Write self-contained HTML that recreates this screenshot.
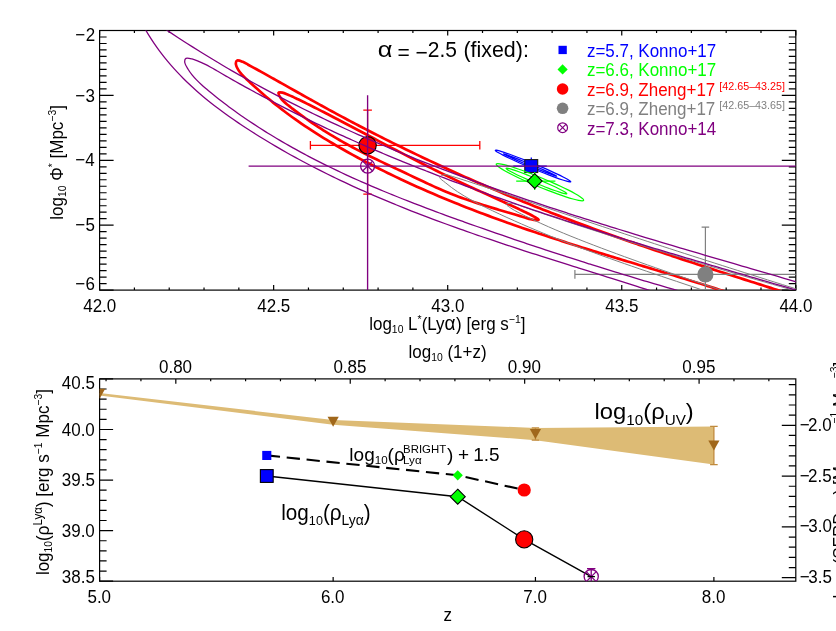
<!DOCTYPE html>
<html><head><meta charset="utf-8"><title>chart</title>
<style>html,body{margin:0;padding:0;background:#fff;}body{width:836px;height:631px;overflow:hidden;font-family:"Liberation Sans", sans-serif;}</style>
</head><body>
<svg width="836" height="631" viewBox="0 0 836 631" style="display:block;will-change:transform;font-family:'Liberation Sans', sans-serif">
<rect width="836" height="631" fill="#fff"/>
<defs><clipPath id="ct"><rect x="99.60" y="30.50" width="696.20" height="259.60"/></clipPath>
<clipPath id="cb"><rect x="99.60" y="378.90" width="696.20" height="202.30"/></clipPath></defs>
<rect x="99.60" y="30.50" width="696.20" height="259.60" fill="none" stroke="#000" stroke-width="1.20"/>
<path d="M99.60 290.10 v-5.00 M99.60 30.50 v5.00 M134.41 290.10 v-2.60 M134.41 30.50 v2.60 M169.22 290.10 v-2.60 M169.22 30.50 v2.60 M204.03 290.10 v-2.60 M204.03 30.50 v2.60 M238.84 290.10 v-2.60 M238.84 30.50 v2.60 M273.65 290.10 v-5.00 M273.65 30.50 v5.00 M308.46 290.10 v-2.60 M308.46 30.50 v2.60 M343.27 290.10 v-2.60 M343.27 30.50 v2.60 M378.08 290.10 v-2.60 M378.08 30.50 v2.60 M412.89 290.10 v-2.60 M412.89 30.50 v2.60 M447.70 290.10 v-5.00 M447.70 30.50 v5.00 M482.51 290.10 v-2.60 M482.51 30.50 v2.60 M517.32 290.10 v-2.60 M517.32 30.50 v2.60 M552.13 290.10 v-2.60 M552.13 30.50 v2.60 M586.94 290.10 v-2.60 M586.94 30.50 v2.60 M621.75 290.10 v-5.00 M621.75 30.50 v5.00 M656.56 290.10 v-2.60 M656.56 30.50 v2.60 M691.37 290.10 v-2.60 M691.37 30.50 v2.60 M726.18 290.10 v-2.60 M726.18 30.50 v2.60 M760.99 290.10 v-2.60 M760.99 30.50 v2.60 M795.80 290.10 v-5.00 M795.80 30.50 v5.00 M99.60 30.50 h14.00 M795.80 30.50 h-14.00 M99.60 36.99 h7.00 M795.80 36.99 h-7.00 M99.60 43.48 h7.00 M795.80 43.48 h-7.00 M99.60 49.97 h7.00 M795.80 49.97 h-7.00 M99.60 56.46 h7.00 M795.80 56.46 h-7.00 M99.60 62.95 h7.00 M795.80 62.95 h-7.00 M99.60 69.44 h7.00 M795.80 69.44 h-7.00 M99.60 75.93 h7.00 M795.80 75.93 h-7.00 M99.60 82.42 h7.00 M795.80 82.42 h-7.00 M99.60 88.91 h7.00 M795.80 88.91 h-7.00 M99.60 95.40 h14.00 M795.80 95.40 h-14.00 M99.60 101.89 h7.00 M795.80 101.89 h-7.00 M99.60 108.38 h7.00 M795.80 108.38 h-7.00 M99.60 114.87 h7.00 M795.80 114.87 h-7.00 M99.60 121.36 h7.00 M795.80 121.36 h-7.00 M99.60 127.85 h7.00 M795.80 127.85 h-7.00 M99.60 134.34 h7.00 M795.80 134.34 h-7.00 M99.60 140.83 h7.00 M795.80 140.83 h-7.00 M99.60 147.32 h7.00 M795.80 147.32 h-7.00 M99.60 153.81 h7.00 M795.80 153.81 h-7.00 M99.60 160.30 h14.00 M795.80 160.30 h-14.00 M99.60 166.79 h7.00 M795.80 166.79 h-7.00 M99.60 173.28 h7.00 M795.80 173.28 h-7.00 M99.60 179.77 h7.00 M795.80 179.77 h-7.00 M99.60 186.26 h7.00 M795.80 186.26 h-7.00 M99.60 192.75 h7.00 M795.80 192.75 h-7.00 M99.60 199.24 h7.00 M795.80 199.24 h-7.00 M99.60 205.73 h7.00 M795.80 205.73 h-7.00 M99.60 212.22 h7.00 M795.80 212.22 h-7.00 M99.60 218.71 h7.00 M795.80 218.71 h-7.00 M99.60 225.20 h14.00 M795.80 225.20 h-14.00 M99.60 231.69 h7.00 M795.80 231.69 h-7.00 M99.60 238.18 h7.00 M795.80 238.18 h-7.00 M99.60 244.67 h7.00 M795.80 244.67 h-7.00 M99.60 251.16 h7.00 M795.80 251.16 h-7.00 M99.60 257.65 h7.00 M795.80 257.65 h-7.00 M99.60 264.14 h7.00 M795.80 264.14 h-7.00 M99.60 270.63 h7.00 M795.80 270.63 h-7.00 M99.60 277.12 h7.00 M795.80 277.12 h-7.00 M99.60 283.61 h7.00 M795.80 283.61 h-7.00 M99.60 290.10 h14.00 M795.80 290.10 h-14.00 " stroke="#000" stroke-width="1.20" fill="none"/>
<g clip-path="url(#ct)" fill="none">
<path d="M570.80 181.80 C570.73 181.96 570.33 182.00 569.64 181.90 C568.95 181.80 567.93 181.56 566.66 181.20 C565.38 180.84 563.78 180.35 561.98 179.75 C560.19 179.15 558.09 178.41 555.86 177.60 C553.63 176.79 551.15 175.86 548.59 174.88 C546.04 173.90 543.29 172.82 540.55 171.71 C537.80 170.61 534.93 169.43 532.13 168.26 C529.33 167.10 526.46 165.88 523.75 164.70 C521.04 163.53 518.33 162.34 515.84 161.21 C513.35 160.09 510.94 158.98 508.79 157.96 C506.65 156.95 504.66 155.97 502.96 155.12 C501.27 154.26 499.79 153.48 498.64 152.82 C497.49 152.17 496.60 151.61 496.05 151.19 C495.49 150.77 495.24 150.46 495.30 150.30 C495.37 150.14 495.77 150.10 496.46 150.20 C497.15 150.30 498.17 150.54 499.44 150.90 C500.72 151.26 502.32 151.75 504.12 152.35 C505.91 152.95 508.01 153.69 510.24 154.50 C512.47 155.31 514.95 156.24 517.51 157.22 C520.06 158.20 522.81 159.28 525.55 160.39 C528.30 161.49 531.17 162.67 533.97 163.84 C536.77 165.00 539.64 166.22 542.35 167.40 C545.06 168.57 547.77 169.76 550.26 170.89 C552.75 172.01 555.16 173.12 557.31 174.14 C559.45 175.15 561.44 176.13 563.14 176.98 C564.83 177.84 566.31 178.62 567.46 179.28 C568.61 179.93 569.50 180.49 570.05 180.91 C570.61 181.33 570.86 181.64 570.80 181.80 Z" stroke="#0000FF" stroke-width="1.2"/>
<path d="M556.69 176.20 C556.67 176.26 556.41 176.23 555.95 176.10 C555.48 175.98 554.78 175.76 553.90 175.45 C553.02 175.15 551.91 174.74 550.66 174.27 C549.41 173.80 547.95 173.24 546.39 172.63 C544.83 172.02 543.09 171.33 541.30 170.61 C539.50 169.88 537.57 169.10 535.64 168.30 C533.71 167.50 531.68 166.66 529.70 165.83 C527.73 165.00 525.70 164.14 523.78 163.32 C521.86 162.49 519.95 161.66 518.18 160.89 C516.41 160.11 514.70 159.35 513.17 158.67 C511.64 157.98 510.21 157.33 509.00 156.76 C507.79 156.20 506.73 155.69 505.90 155.27 C505.06 154.85 504.41 154.51 504.00 154.27 C503.58 154.02 503.38 153.86 503.41 153.80 C503.43 153.74 503.69 153.77 504.15 153.90 C504.62 154.02 505.32 154.24 506.20 154.55 C507.08 154.85 508.19 155.26 509.44 155.73 C510.69 156.20 512.15 156.76 513.71 157.37 C515.27 157.98 517.01 158.67 518.80 159.39 C520.60 160.12 522.53 160.90 524.46 161.70 C526.39 162.50 528.42 163.34 530.40 164.17 C532.37 165.00 534.40 165.86 536.32 166.68 C538.24 167.51 540.15 168.34 541.92 169.11 C543.69 169.89 545.40 170.65 546.93 171.33 C548.46 172.02 549.89 172.67 551.10 173.24 C552.31 173.80 553.37 174.31 554.20 174.73 C555.04 175.15 555.69 175.49 556.10 175.73 C556.52 175.98 556.72 176.14 556.69 176.20 Z" stroke="#0000FF" stroke-width="1.2"/>
<path d="M513.3 166.2 H546.8 M531.3 157.4 V174" stroke="#0000FF" stroke-width="1.3"/>
<rect x="524.8" y="159.6" width="12.9" height="12.9" fill="#0000FF" stroke="#1a1a1a" stroke-width="1.1"/>
<path d="M583.65 200.30 C583.52 200.62 583.01 200.78 582.16 200.79 C581.31 200.80 580.08 200.65 578.56 200.35 C577.03 200.05 575.14 199.59 573.02 199.00 C570.90 198.41 568.44 197.66 565.82 196.81 C563.20 195.96 560.30 194.96 557.32 193.88 C554.35 192.81 551.15 191.61 547.96 190.37 C544.77 189.13 541.43 187.79 538.19 186.45 C534.95 185.11 531.64 183.69 528.51 182.32 C525.38 180.94 522.27 179.52 519.40 178.18 C516.54 176.83 513.78 175.48 511.33 174.24 C508.87 172.99 506.61 171.78 504.69 170.70 C502.77 169.61 501.10 168.60 499.81 167.74 C498.53 166.87 497.55 166.10 496.95 165.50 C496.36 164.89 496.12 164.41 496.25 164.10 C496.38 163.78 496.89 163.62 497.74 163.61 C498.59 163.60 499.82 163.75 501.34 164.05 C502.87 164.35 504.76 164.81 506.88 165.40 C509.00 165.99 511.46 166.74 514.08 167.59 C516.70 168.44 519.60 169.44 522.58 170.52 C525.55 171.59 528.75 172.79 531.94 174.03 C535.13 175.27 538.47 176.61 541.71 177.95 C544.95 179.29 548.26 180.71 551.39 182.08 C554.52 183.46 557.63 184.88 560.50 186.22 C563.36 187.57 566.12 188.92 568.57 190.16 C571.03 191.41 573.29 192.62 575.21 193.70 C577.13 194.79 578.80 195.80 580.09 196.66 C581.37 197.53 582.35 198.30 582.95 198.90 C583.54 199.51 583.78 199.99 583.65 200.30 Z" stroke="#00FF00" stroke-width="1.2"/>
<path d="M566.75 193.70 C566.69 193.85 566.36 193.89 565.80 193.83 C565.24 193.77 564.41 193.59 563.38 193.32 C562.34 193.05 561.05 192.66 559.60 192.19 C558.15 191.72 556.46 191.15 554.66 190.50 C552.86 189.86 550.86 189.12 548.80 188.34 C546.75 187.55 544.53 186.69 542.33 185.80 C540.12 184.92 537.80 183.97 535.55 183.03 C533.30 182.09 531.00 181.11 528.82 180.15 C526.64 179.20 524.47 178.23 522.47 177.32 C520.47 176.41 518.53 175.50 516.81 174.67 C515.09 173.84 513.50 173.04 512.14 172.34 C510.79 171.63 509.61 170.99 508.69 170.44 C507.77 169.90 507.06 169.43 506.62 169.07 C506.18 168.72 505.99 168.45 506.05 168.30 C506.11 168.15 506.44 168.11 507.00 168.17 C507.56 168.23 508.39 168.41 509.42 168.68 C510.46 168.95 511.75 169.34 513.20 169.81 C514.65 170.28 516.34 170.85 518.14 171.50 C519.94 172.14 521.94 172.88 524.00 173.66 C526.05 174.45 528.27 175.31 530.47 176.20 C532.68 177.08 535.00 178.03 537.25 178.97 C539.50 179.91 541.80 180.89 543.98 181.85 C546.16 182.80 548.33 183.77 550.33 184.68 C552.33 185.59 554.27 186.50 555.99 187.33 C557.71 188.16 559.30 188.96 560.66 189.66 C562.01 190.37 563.19 191.01 564.11 191.56 C565.03 192.10 565.74 192.57 566.18 192.93 C566.62 193.28 566.81 193.55 566.75 193.70 Z" stroke="#00FF00" stroke-width="1.2"/>
<path d="M516.2 181.1 H555.4 M534.7 172 V190" stroke="#00FF00" stroke-width="1.3"/>
<path d="M534.7 173.7 L542.1 181.1 L534.7 188.5 L527.3 181.1 Z" fill="#00FF00" stroke="#000" stroke-width="1.1"/>
<path d="M732.98 294.10 C732.04 293.79 729.21 292.87 727.32 292.26 C725.43 291.65 723.54 291.04 721.65 290.43 C719.76 289.82 717.86 289.22 715.97 288.62 C714.08 288.01 712.18 287.41 710.29 286.81 C708.39 286.22 706.50 285.62 704.60 285.02 C702.71 284.43 700.81 283.83 698.91 283.24 C697.02 282.65 695.12 282.06 693.22 281.47 C691.32 280.88 689.42 280.29 687.52 279.71 C685.62 279.12 683.72 278.54 681.82 277.95 C679.92 277.37 678.02 276.79 676.12 276.20 C674.22 275.62 672.32 275.04 670.42 274.46 C668.51 273.88 666.61 273.30 664.71 272.72 C662.81 272.14 660.90 271.56 659.00 270.98 C657.10 270.41 655.19 269.83 653.29 269.25 C651.39 268.67 649.48 268.10 647.58 267.52 C645.67 266.94 643.77 266.37 641.87 265.79 C639.96 265.21 638.06 264.64 636.15 264.06 C634.25 263.48 632.35 262.90 630.44 262.33 C628.54 261.75 626.63 261.17 624.73 260.59 C622.83 260.01 620.92 259.43 619.02 258.85 C617.12 258.27 615.21 257.69 613.31 257.11 C611.41 256.53 609.50 255.95 607.60 255.37 C605.70 254.78 603.80 254.20 601.89 253.61 C599.99 253.03 598.09 252.44 596.19 251.86 C594.29 251.27 592.39 250.68 590.49 250.09 C588.59 249.50 586.69 248.91 584.79 248.31 C582.89 247.72 580.99 247.12 579.09 246.53 C577.20 245.93 575.30 245.33 573.40 244.73 C571.51 244.13 569.61 243.53 567.71 242.92 C565.82 242.32 563.92 241.71 562.03 241.10 C560.14 240.50 558.24 239.88 556.35 239.27 C554.46 238.66 552.57 238.04 550.68 237.42 C548.79 236.80 546.90 236.18 545.01 235.56 C543.12 234.94 541.23 234.31 539.34 233.68 C537.46 233.05 535.57 232.42 533.69 231.78 C531.80 231.15 529.92 230.51 528.04 229.87 C526.15 229.23 524.27 228.58 522.39 227.93 C520.51 227.29 518.63 226.64 516.76 225.98 C514.88 225.33 513.00 224.67 511.13 224.01 C509.25 223.34 507.38 222.68 505.51 222.01 C503.63 221.34 501.76 220.67 499.89 219.99 C498.02 219.32 496.15 218.64 494.29 217.95 C492.42 217.27 490.56 216.58 488.69 215.89 C486.83 215.20 484.97 214.50 483.10 213.80 C481.24 213.10 479.39 212.40 477.53 211.69 C475.67 210.98 473.81 210.27 471.96 209.55 C470.11 208.83 468.25 208.11 466.40 207.39 C464.55 206.66 462.70 205.93 460.86 205.20 C459.01 204.46 457.17 203.72 455.32 202.98 C453.48 202.24 451.64 201.49 449.80 200.74 C447.96 199.98 446.12 199.23 444.29 198.46 C442.45 197.70 440.62 196.93 438.79 196.16 C436.96 195.39 435.13 194.61 433.30 193.83 C431.47 193.05 429.65 192.26 427.83 191.47 C426.00 190.68 424.18 189.88 422.37 189.08 C420.55 188.27 418.73 187.47 416.92 186.65 C415.10 185.84 413.29 185.02 411.48 184.20 C409.68 183.37 407.87 182.54 406.07 181.71 C404.26 180.87 402.46 180.03 400.66 179.18 C398.86 178.34 397.07 177.49 395.27 176.63 C393.48 175.77 391.69 174.91 389.90 174.04 C388.11 173.17 386.32 172.29 384.54 171.41 C382.75 170.53 380.97 169.64 379.20 168.75 C377.42 167.85 375.64 166.95 373.87 166.05 C372.10 165.14 370.33 164.23 368.56 163.31 C366.79 162.39 365.03 161.47 363.27 160.54 C361.51 159.60 359.75 158.67 357.99 157.72 C356.24 156.78 354.49 155.83 352.74 154.87 C350.99 153.91 349.24 152.95 347.50 151.98 C345.76 151.00 344.02 150.02 342.29 149.04 C340.56 148.05 338.83 147.06 337.10 146.06 C335.38 145.06 333.66 144.05 331.95 143.03 C330.23 142.02 328.52 140.99 326.82 139.96 C325.12 138.93 323.42 137.89 321.73 136.84 C320.03 135.79 318.35 134.73 316.67 133.66 C314.99 132.60 313.32 131.52 311.65 130.44 C309.98 129.36 308.32 128.26 306.67 127.16 C305.02 126.06 303.38 124.95 301.74 123.83 C300.10 122.71 298.47 121.58 296.85 120.44 C295.23 119.30 293.62 118.15 292.01 116.99 C290.41 115.83 288.81 114.67 287.22 113.49 C285.64 112.31 284.06 111.12 282.49 109.92 C280.92 108.72 279.36 107.51 277.81 106.29 C276.26 105.07 274.72 103.84 273.19 102.59 C271.66 101.35 270.14 100.09 268.62 98.83 C267.10 97.56 265.58 96.28 264.08 94.98 C262.57 93.69 261.06 92.38 259.56 91.06 C258.05 89.73 256.55 88.40 255.05 87.04 C253.55 85.69 252.05 84.32 250.54 82.94 C249.04 81.55 247.50 80.16 246.03 78.73 C244.55 77.30 243.02 75.87 241.70 74.35 C240.38 72.84 239.09 71.30 238.13 69.64 C237.16 67.99 236.07 65.95 235.91 64.42 C235.75 62.89 236.03 60.90 237.18 60.47 C238.32 60.04 240.96 61.13 242.78 61.83 C244.61 62.54 246.35 63.75 248.13 64.71 C249.91 65.67 251.68 66.63 253.45 67.60 C255.22 68.57 256.98 69.54 258.75 70.51 C260.51 71.48 262.26 72.45 264.02 73.43 C265.77 74.40 267.52 75.38 269.27 76.35 C271.02 77.33 272.76 78.30 274.51 79.28 C276.25 80.26 277.99 81.24 279.73 82.22 C281.47 83.19 283.20 84.17 284.94 85.15 C286.68 86.13 288.41 87.11 290.14 88.09 C291.88 89.06 293.61 90.04 295.34 91.02 C297.07 91.99 298.80 92.97 300.53 93.94 C302.26 94.92 303.99 95.89 305.73 96.86 C307.46 97.83 309.19 98.80 310.92 99.77 C312.65 100.74 314.39 101.70 316.12 102.66 C317.86 103.63 319.59 104.59 321.33 105.54 C323.07 106.50 324.81 107.46 326.55 108.41 C328.29 109.36 330.04 110.31 331.78 111.26 C333.53 112.20 335.27 113.15 337.02 114.09 C338.77 115.03 340.52 115.97 342.27 116.91 C344.02 117.84 345.78 118.78 347.53 119.71 C349.29 120.64 351.04 121.56 352.80 122.49 C354.56 123.41 356.32 124.34 358.08 125.26 C359.84 126.18 361.60 127.09 363.37 128.01 C365.13 128.92 366.90 129.83 368.66 130.74 C370.43 131.65 372.20 132.56 373.97 133.46 C375.74 134.36 377.51 135.26 379.29 136.16 C381.06 137.06 382.84 137.95 384.61 138.85 C386.39 139.74 388.17 140.63 389.95 141.51 C391.73 142.40 393.51 143.28 395.29 144.17 C397.07 145.05 398.86 145.93 400.64 146.80 C402.43 147.68 404.22 148.55 406.00 149.42 C407.79 150.29 409.58 151.16 411.37 152.02 C413.17 152.89 414.96 153.75 416.75 154.61 C418.55 155.47 420.34 156.32 422.14 157.18 C423.94 158.03 425.74 158.88 427.53 159.73 C429.33 160.58 431.14 161.42 432.94 162.26 C434.74 163.11 436.54 163.94 438.35 164.78 C440.16 165.62 441.96 166.45 443.77 167.28 C445.58 168.11 447.39 168.94 449.20 169.77 C451.01 170.59 452.82 171.42 454.63 172.24 C456.45 173.06 458.26 173.87 460.08 174.69 C461.89 175.50 463.71 176.31 465.53 177.12 C467.35 177.93 469.17 178.73 470.99 179.54 C472.81 180.34 474.63 181.14 476.46 181.94 C478.28 182.74 480.10 183.53 481.93 184.32 C483.76 185.11 485.58 185.90 487.41 186.69 C489.24 187.47 491.07 188.26 492.90 189.04 C494.73 189.82 496.56 190.59 498.40 191.37 C500.23 192.14 502.06 192.91 503.90 193.68 C505.74 194.45 507.57 195.22 509.41 195.98 C511.25 196.74 513.09 197.50 514.93 198.26 C516.77 199.02 518.61 199.77 520.45 200.52 C522.29 201.27 524.14 202.02 525.98 202.77 C527.83 203.52 529.67 204.26 531.52 205.00 C533.37 205.74 535.21 206.48 537.06 207.21 C538.91 207.94 540.76 208.67 542.61 209.40 C544.47 210.13 546.32 210.86 548.17 211.58 C550.02 212.30 551.88 213.02 553.73 213.74 C555.59 214.46 557.45 215.17 559.30 215.88 C561.16 216.59 563.02 217.30 564.88 218.01 C566.74 218.71 568.60 219.42 570.46 220.12 C572.32 220.82 574.18 221.52 576.05 222.21 C577.91 222.91 579.77 223.60 581.64 224.29 C583.50 224.98 585.37 225.67 587.23 226.36 C589.10 227.05 590.97 227.73 592.84 228.41 C594.70 229.09 596.57 229.77 598.44 230.45 C600.31 231.12 602.18 231.80 604.06 232.47 C605.93 233.14 607.80 233.81 609.67 234.48 C611.55 235.15 613.42 235.82 615.29 236.48 C617.17 237.14 619.04 237.80 620.92 238.46 C622.80 239.12 624.67 239.78 626.55 240.44 C628.43 241.09 630.31 241.75 632.19 242.40 C634.06 243.05 635.94 243.70 637.82 244.35 C639.70 245.00 641.58 245.65 643.47 246.29 C645.35 246.94 647.23 247.58 649.11 248.22 C650.99 248.86 652.88 249.50 654.76 250.14 C656.64 250.78 658.53 251.42 660.41 252.05 C662.30 252.69 664.18 253.32 666.07 253.96 C667.95 254.59 669.84 255.22 671.73 255.85 C673.61 256.48 675.50 257.11 677.39 257.73 C679.28 258.36 681.16 258.99 683.05 259.61 C684.94 260.24 686.83 260.86 688.72 261.48 C690.61 262.10 692.50 262.72 694.39 263.34 C696.28 263.96 698.17 264.58 700.06 265.20 C701.95 265.82 703.84 266.43 705.73 267.05 C707.63 267.67 709.52 268.28 711.41 268.89 C713.30 269.51 715.19 270.12 717.09 270.73 C718.98 271.35 720.87 271.96 722.77 272.57 C724.66 273.18 726.55 273.79 728.45 274.40 C730.34 275.01 732.23 275.61 734.13 276.22 C736.02 276.83 737.92 277.44 739.81 278.04 C741.71 278.65 743.60 279.26 745.50 279.86 C747.39 280.47 749.29 281.07 751.18 281.68 C753.08 282.28 754.97 282.89 756.87 283.49 C758.76 284.09 760.66 284.70 762.55 285.30 C764.45 285.90 766.34 286.51 768.24 287.11 C770.14 287.71 772.03 288.31 773.93 288.92 C775.82 289.52 777.72 290.12 779.61 290.72 C781.51 291.33 783.41 291.93 785.30 292.53 C787.20 293.13 790.04 294.03 790.99 294.34" stroke="#FF0000" stroke-width="2.7" stroke-linejoin="round"/>
<path d="M278.46 92.87 C278.77 92.02 280.82 92.35 282.42 92.65 C284.01 92.95 286.24 93.97 288.01 94.68 C289.79 95.38 291.42 96.13 293.06 96.88 C294.69 97.63 296.25 98.41 297.85 99.18 C299.44 99.95 301.02 100.74 302.61 101.52 C304.20 102.30 305.78 103.09 307.37 103.88 C308.96 104.67 310.54 105.46 312.13 106.26 C313.72 107.06 315.30 107.86 316.89 108.66 C318.48 109.47 320.06 110.28 321.65 111.09 C323.24 111.90 324.82 112.71 326.41 113.53 C328.00 114.34 329.58 115.16 331.17 115.98 C332.76 116.81 334.34 117.63 335.93 118.46 C337.52 119.28 339.10 120.11 340.69 120.94 C342.28 121.77 343.87 122.60 345.45 123.44 C347.04 124.27 348.63 125.10 350.22 125.94 C351.81 126.78 353.40 127.61 354.99 128.45 C356.57 129.29 358.16 130.13 359.75 130.97 C361.34 131.81 362.93 132.65 364.52 133.50 C366.11 134.34 367.70 135.18 369.29 136.02 C370.89 136.86 372.48 137.71 374.07 138.55 C375.66 139.39 377.25 140.24 378.85 141.08 C380.44 141.92 382.03 142.76 383.63 143.60 C385.22 144.44 386.82 145.29 388.41 146.13 C390.01 146.97 391.60 147.80 393.20 148.64 C394.79 149.48 396.39 150.32 397.99 151.15 C399.59 151.99 401.18 152.82 402.78 153.65 C404.38 154.49 405.98 155.32 407.58 156.14 C409.18 156.97 410.78 157.80 412.38 158.62 C413.99 159.45 415.59 160.27 417.19 161.09 C418.80 161.91 420.40 162.73 422.00 163.54 C423.61 164.35 425.22 165.17 426.82 165.97 C428.43 166.78 430.04 167.59 431.65 168.39 C433.25 169.19 434.86 169.99 436.47 170.79 C438.08 171.58 439.70 172.37 441.31 173.16 C442.92 173.95 444.53 174.73 446.15 175.51 C447.76 176.29 449.38 177.06 451.00 177.84 C452.61 178.61 454.23 179.37 455.85 180.14 C457.47 180.90 459.09 181.66 460.71 182.41 C462.33 183.17 463.95 183.92 465.57 184.67 C467.20 185.42 468.82 186.17 470.44 186.92 C472.07 187.67 473.69 188.41 475.32 189.15 C476.95 189.90 478.57 190.64 480.20 191.38 C481.83 192.12 483.46 192.86 485.09 193.60 C486.72 194.34 488.35 195.08 489.98 195.82 C491.61 196.56 493.24 197.30 494.88 198.05 C496.51 198.79 498.14 199.53 499.78 200.28 C501.41 201.02 503.05 201.77 504.68 202.52 C506.32 203.27 507.96 204.02 509.59 204.78 C511.23 205.53 512.87 206.29 514.51 207.05 C516.14 207.81 517.78 208.58 519.42 209.35 C521.06 210.12 522.71 210.88 524.34 211.67 C525.98 212.45 527.63 213.22 529.24 214.05 C530.86 214.88 532.47 215.71 534.02 216.63 C535.57 217.56 538.23 219.00 538.53 219.59 C538.82 220.19 537.07 220.27 535.77 220.21 C534.47 220.15 532.43 219.65 530.72 219.24 C529.00 218.83 527.24 218.26 525.49 217.74 C523.75 217.22 521.99 216.66 520.24 216.13 C518.49 215.60 516.74 215.08 515.00 214.56 C513.25 214.04 511.51 213.52 509.77 213.00 C508.03 212.49 506.29 211.98 504.56 211.46 C502.82 210.95 501.09 210.44 499.36 209.93 C497.63 209.42 495.91 208.90 494.18 208.39 C492.46 207.87 490.74 207.35 489.02 206.83 C487.30 206.31 485.59 205.79 483.88 205.26 C482.17 204.72 480.46 204.19 478.76 203.65 C477.05 203.10 475.35 202.55 473.65 202.00 C471.96 201.44 470.26 200.87 468.58 200.30 C466.89 199.72 465.20 199.13 463.52 198.54 C461.84 197.94 460.16 197.33 458.49 196.71 C456.81 196.09 455.14 195.45 453.48 194.80 C451.81 194.15 450.15 193.49 448.50 192.81 C446.84 192.13 445.19 191.44 443.54 190.73 C441.89 190.03 440.25 189.30 438.61 188.58 C436.96 187.85 435.33 187.11 433.69 186.36 C432.05 185.61 430.42 184.86 428.79 184.10 C427.15 183.34 425.53 182.57 423.90 181.80 C422.27 181.03 420.64 180.26 419.01 179.49 C417.39 178.71 415.76 177.94 414.13 177.16 C412.51 176.39 410.88 175.62 409.25 174.85 C407.63 174.08 406.00 173.31 404.37 172.55 C402.75 171.78 401.12 171.02 399.49 170.26 C397.86 169.50 396.24 168.74 394.61 167.98 C392.99 167.22 391.36 166.46 389.74 165.70 C388.11 164.94 386.49 164.17 384.87 163.41 C383.25 162.64 381.63 161.88 380.01 161.10 C378.40 160.33 376.78 159.56 375.17 158.78 C373.56 158.00 371.95 157.21 370.34 156.42 C368.73 155.63 367.13 154.84 365.53 154.04 C363.93 153.23 362.33 152.42 360.74 151.61 C359.14 150.79 357.55 149.96 355.97 149.13 C354.38 148.29 352.80 147.45 351.22 146.60 C349.64 145.75 348.07 144.88 346.50 144.01 C344.93 143.14 343.37 142.26 341.81 141.38 C340.25 140.49 338.70 139.59 337.15 138.68 C335.60 137.78 334.06 136.86 332.52 135.93 C330.98 135.01 329.44 134.07 327.92 133.13 C326.39 132.18 324.87 131.23 323.35 130.27 C321.83 129.31 320.32 128.33 318.82 127.35 C317.31 126.37 315.81 125.38 314.32 124.38 C312.83 123.38 311.34 122.37 309.86 121.34 C308.38 120.32 306.91 119.29 305.44 118.25 C303.98 117.21 302.52 116.17 301.07 115.11 C299.61 114.05 298.17 112.98 296.73 111.90 C295.29 110.82 293.86 109.73 292.43 108.63 C291.01 107.53 289.58 106.44 288.18 105.30 C286.79 104.17 285.34 103.09 284.06 101.84 C282.79 100.58 281.48 99.28 280.55 97.79 C279.62 96.29 278.15 93.73 278.46 92.87 Z" stroke="#FF0000" stroke-width="2.7" stroke-linejoin="round"/>
<path d="M310.4 145.3 H479.8 M310.4 141.1 V149.6 M479.8 141.1 V149.6 M367.6 110.2 V194.2 M363.3 110.2 H371.9 M363.3 194.2 H371.9" stroke="#FF0000" stroke-width="1.3"/>
<circle cx="367.6" cy="145.3" r="8.7" fill="#FF0000" stroke="#000" stroke-width="1.1"/>
<path d="M714.07 293.96 C712.82 293.53 709.05 292.26 706.54 291.42 C704.03 290.57 701.52 289.73 699.02 288.89 C696.51 288.05 694.01 287.21 691.51 286.37 C689.00 285.53 686.50 284.69 684.00 283.86 C681.50 283.02 679.00 282.18 676.51 281.34 C674.01 280.51 671.52 279.67 669.02 278.83 C666.53 277.99 664.04 277.16 661.55 276.32 C659.06 275.48 656.57 274.63 654.08 273.79 C651.60 272.95 649.11 272.11 646.63 271.26 C644.14 270.41 641.66 269.57 639.18 268.72 C636.70 267.86 634.22 267.01 631.75 266.16 C629.27 265.30 626.79 264.44 624.32 263.58 C621.85 262.72 619.38 261.85 616.91 260.98 C614.44 260.11 611.97 259.24 609.50 258.36 C607.03 257.48 604.57 256.60 602.11 255.71 C599.64 254.82 597.18 253.93 594.72 253.03 C592.26 252.13 589.80 251.23 587.35 250.32 C584.89 249.41 582.44 248.49 579.99 247.57 C577.53 246.65 575.08 245.72 572.64 244.78 C570.19 243.85 567.74 242.90 565.29 241.96 C562.85 241.01 560.41 240.05 557.97 239.08 C555.52 238.12 553.09 237.15 550.65 236.17 C548.21 235.18 545.77 234.19 543.34 233.20 C540.91 232.20 538.48 231.19 536.05 230.17 C533.62 229.16 531.19 228.13 528.76 227.10 C526.34 226.06 523.91 225.02 521.49 223.96 C519.07 222.91 516.65 221.84 514.23 220.76 C511.81 219.69 509.40 218.60 506.98 217.50 C504.57 216.40 502.16 215.29 499.75 214.17 C497.34 213.05 494.93 211.92 492.52 210.77 C490.12 209.62 487.71 208.47 485.32 207.29 C482.93 206.11 480.54 204.92 478.18 203.70 C475.82 202.48 473.47 201.24 471.15 199.96 C468.84 198.67 466.55 197.37 464.30 196.01 C462.05 194.66 459.83 193.28 457.67 191.84 C455.51 190.40 453.39 188.92 451.33 187.38 C449.27 185.84 447.25 184.26 445.31 182.60 C443.38 180.95 439.75 178.79 439.70 177.46 C439.65 176.13 442.86 174.76 445.02 174.60 C447.19 174.45 450.19 175.83 452.70 176.53 C455.21 177.24 457.61 178.05 460.09 178.83 C462.58 179.62 465.10 180.45 467.60 181.26 C470.11 182.08 472.63 182.91 475.13 183.74 C477.64 184.56 480.15 185.39 482.65 186.22 C485.16 187.05 487.66 187.88 490.17 188.71 C492.67 189.55 495.17 190.38 497.67 191.22 C500.17 192.05 502.66 192.89 505.16 193.73 C507.66 194.56 510.15 195.40 512.65 196.24 C515.14 197.08 517.64 197.92 520.13 198.76 C522.62 199.60 525.11 200.45 527.60 201.29 C530.09 202.13 532.59 202.97 535.07 203.82 C537.56 204.66 540.05 205.50 542.54 206.34 C545.03 207.19 547.52 208.03 550.01 208.87 C552.50 209.72 554.98 210.56 557.47 211.40 C559.96 212.24 562.45 213.09 564.94 213.93 C567.42 214.77 569.91 215.61 572.40 216.45 C574.89 217.29 577.38 218.13 579.87 218.97 C582.35 219.81 584.84 220.64 587.33 221.48 C589.82 222.32 592.31 223.15 594.81 223.98 C597.30 224.82 599.79 225.65 602.28 226.48 C604.77 227.31 607.27 228.14 609.76 228.97 C612.25 229.80 614.75 230.63 617.24 231.45 C619.74 232.28 622.23 233.11 624.73 233.93 C627.22 234.75 629.72 235.58 632.21 236.40 C634.71 237.22 637.21 238.04 639.71 238.86 C642.20 239.68 644.70 240.50 647.20 241.32 C649.70 242.13 652.20 242.95 654.70 243.76 C657.20 244.58 659.70 245.39 662.20 246.21 C664.70 247.02 667.20 247.83 669.70 248.64 C672.20 249.46 674.70 250.27 677.20 251.07 C679.70 251.88 682.20 252.69 684.71 253.50 C687.21 254.31 689.71 255.11 692.21 255.92 C694.72 256.72 697.22 257.53 699.72 258.33 C702.23 259.14 704.73 259.94 707.24 260.74 C709.74 261.54 712.25 262.34 714.75 263.14 C717.25 263.94 719.76 264.74 722.26 265.54 C724.77 266.34 727.27 267.14 729.78 267.94 C732.29 268.73 734.79 269.53 737.30 270.32 C739.80 271.12 742.31 271.91 744.82 272.71 C747.32 273.50 749.83 274.30 752.34 275.09 C754.84 275.88 757.35 276.67 759.86 277.46 C762.36 278.25 764.87 279.05 767.38 279.84 C769.88 280.62 772.39 281.41 774.90 282.20 C777.40 282.99 779.91 283.78 782.42 284.57 C784.93 285.35 787.43 286.14 789.94 286.93 C792.45 287.71 794.95 288.50 797.46 289.28 C799.97 290.07 803.73 291.24 804.98 291.64" stroke="#808080" stroke-width="1"/>
<path d="M733.00 294.17 C731.72 293.74 727.86 292.44 725.28 291.57 C722.71 290.71 720.13 289.84 717.55 288.97 C714.96 288.10 712.38 287.23 709.79 286.35 C707.21 285.48 704.62 284.60 702.03 283.73 C699.44 282.85 696.85 281.97 694.26 281.09 C691.67 280.21 689.07 279.33 686.48 278.44 C683.89 277.56 681.29 276.67 678.70 275.78 C676.11 274.89 673.51 273.99 670.92 273.10 C668.33 272.20 665.73 271.31 663.14 270.40 C660.55 269.50 657.96 268.60 655.37 267.69 C652.78 266.78 650.19 265.87 647.60 264.96 C645.01 264.04 642.43 263.13 639.85 262.21 C637.26 261.28 634.68 260.36 632.11 259.43 C629.53 258.50 626.95 257.57 624.38 256.63 C621.81 255.70 619.24 254.76 616.68 253.81 C614.11 252.87 611.55 251.92 608.99 250.96 C606.44 250.01 603.89 249.05 601.34 248.09 C598.79 247.13 596.25 246.16 593.71 245.18 C591.17 244.21 588.64 243.24 586.11 242.25 C583.58 241.27 581.06 240.28 578.54 239.28 C576.02 238.28 573.50 237.28 570.99 236.26 C568.47 235.24 565.96 234.21 563.45 233.16 C560.93 232.12 558.42 231.06 555.91 229.99 C553.40 228.91 550.88 227.83 548.37 226.72 C545.85 225.61 543.33 224.48 540.81 223.33 C538.29 222.18 535.77 221.01 533.23 219.81 C530.70 218.62 528.16 217.40 525.63 216.16 C523.10 214.91 520.49 213.65 518.05 212.33 C515.62 211.01 512.99 209.64 511.01 208.25 C509.02 206.87 505.75 204.77 506.15 204.00 C506.54 203.24 510.87 203.30 513.40 203.65 C515.93 204.01 518.69 205.27 521.33 206.14 C523.98 207.02 526.63 207.98 529.28 208.90 C531.92 209.81 534.55 210.71 537.18 211.61 C539.81 212.51 542.44 213.40 545.06 214.29 C547.68 215.18 550.29 216.06 552.90 216.94 C555.52 217.81 558.12 218.69 560.73 219.55 C563.33 220.42 565.93 221.28 568.53 222.14 C571.13 222.99 573.73 223.85 576.32 224.69 C578.91 225.54 581.50 226.39 584.10 227.23 C586.69 228.07 589.27 228.90 591.86 229.74 C594.45 230.57 597.04 231.40 599.62 232.23 C602.21 233.05 604.80 233.88 607.39 234.70 C609.97 235.52 612.56 236.34 615.15 237.15 C617.74 237.97 620.33 238.78 622.92 239.59 C625.51 240.40 628.11 241.21 630.70 242.02 C633.30 242.83 635.90 243.64 638.50 244.44 C641.10 245.25 643.71 246.05 646.31 246.85 C648.92 247.66 651.53 248.46 654.14 249.26 C656.76 250.06 659.37 250.86 661.99 251.65 C664.61 252.45 667.23 253.25 669.85 254.04 C672.47 254.84 675.10 255.63 677.72 256.42 C680.35 257.22 682.98 258.01 685.61 258.80 C688.24 259.59 690.87 260.37 693.50 261.16 C696.13 261.95 698.76 262.73 701.39 263.51 C704.03 264.30 706.66 265.08 709.30 265.86 C711.93 266.64 714.57 267.42 717.20 268.20 C719.83 268.97 722.47 269.75 725.11 270.52 C727.74 271.30 730.38 272.07 733.01 272.84 C735.64 273.61 738.28 274.38 740.91 275.15 C743.54 275.92 746.18 276.68 748.81 277.45 C751.44 278.21 754.07 278.97 756.70 279.73 C759.33 280.49 761.96 281.25 764.58 282.01 C767.21 282.76 769.83 283.52 772.46 284.27 C775.08 285.03 777.70 285.78 780.32 286.53 C782.94 287.27 785.55 288.02 788.16 288.77 C790.78 289.51 794.69 290.62 796.00 291.00" stroke="#808080" stroke-width="1"/>
<path d="M574.9 274.4 H795.8 M574.9 270 V278.8 M705.4 227.2 V290.1 M701.6 227.2 H709.2" stroke="#808080" stroke-width="1.2"/>
<circle cx="705.4" cy="274.4" r="8.1" fill="#808080"/>
<path d="M161.78 26.68 C163.05 27.54 166.85 30.13 169.40 31.84 C171.95 33.54 174.50 35.24 177.06 36.92 C179.62 38.60 182.19 40.27 184.76 41.93 C187.33 43.59 189.91 45.24 192.49 46.88 C195.07 48.51 197.66 50.14 200.26 51.75 C202.85 53.36 205.45 54.96 208.06 56.55 C210.66 58.14 213.27 59.72 215.89 61.29 C218.50 62.86 221.12 64.41 223.75 65.96 C226.38 67.51 229.01 69.04 231.65 70.57 C234.28 72.09 236.93 73.60 239.58 75.11 C242.22 76.61 244.88 78.10 247.53 79.58 C250.19 81.07 252.85 82.54 255.52 84.00 C258.19 85.46 260.86 86.91 263.54 88.35 C266.22 89.80 268.90 91.23 271.59 92.65 C274.27 94.07 276.96 95.48 279.66 96.88 C282.36 98.29 285.06 99.68 287.76 101.06 C290.47 102.44 293.18 103.82 295.89 105.18 C298.61 106.54 301.33 107.90 304.05 109.24 C306.78 110.59 309.50 111.93 312.23 113.25 C314.97 114.58 317.70 115.90 320.44 117.21 C323.18 118.52 325.93 119.82 328.68 121.11 C331.43 122.40 334.18 123.68 336.94 124.96 C339.69 126.23 342.45 127.50 345.22 128.76 C347.98 130.01 350.75 131.26 353.52 132.51 C356.29 133.75 359.07 134.98 361.85 136.20 C364.63 137.43 367.41 138.65 370.20 139.86 C372.99 141.07 375.78 142.27 378.57 143.46 C381.37 144.66 384.16 145.84 386.96 147.02 C389.76 148.20 392.57 149.37 395.38 150.53 C398.18 151.70 401.00 152.85 403.81 154.00 C406.62 155.15 409.44 156.30 412.26 157.43 C415.08 158.57 417.90 159.70 420.73 160.82 C423.56 161.94 426.39 163.05 429.22 164.16 C432.05 165.27 434.89 166.37 437.73 167.47 C440.56 168.56 443.41 169.65 446.25 170.73 C449.09 171.82 451.94 172.89 454.79 173.96 C457.64 175.03 460.49 176.10 463.34 177.15 C466.20 178.21 469.05 179.26 471.91 180.31 C474.77 181.36 477.63 182.40 480.50 183.43 C483.36 184.47 486.23 185.50 489.10 186.52 C491.97 187.54 494.84 188.56 497.71 189.57 C500.58 190.59 503.46 191.60 506.34 192.60 C509.21 193.60 512.09 194.60 514.97 195.59 C517.85 196.58 520.74 197.57 523.62 198.55 C526.51 199.54 529.39 200.52 532.28 201.49 C535.17 202.46 538.06 203.43 540.95 204.40 C543.85 205.36 546.74 206.32 549.64 207.28 C552.53 208.23 555.43 209.19 558.33 210.13 C561.23 211.08 564.13 212.03 567.03 212.96 C569.93 213.90 572.83 214.84 575.73 215.77 C578.64 216.70 581.54 217.63 584.45 218.56 C587.36 219.48 590.26 220.40 593.17 221.32 C596.08 222.24 598.99 223.15 601.90 224.07 C604.81 224.98 607.73 225.88 610.64 226.79 C613.55 227.69 616.47 228.60 619.38 229.50 C622.29 230.39 625.21 231.29 628.13 232.18 C631.04 233.08 633.96 233.97 636.88 234.86 C639.79 235.74 642.71 236.63 645.63 237.51 C648.55 238.40 651.47 239.28 654.39 240.16 C657.31 241.03 660.23 241.91 663.15 242.79 C666.07 243.66 668.99 244.53 671.91 245.40 C674.83 246.27 677.75 247.14 680.67 248.01 C683.59 248.88 686.51 249.74 689.44 250.60 C692.36 251.47 695.28 252.33 698.20 253.19 C701.12 254.05 704.04 254.91 706.96 255.77 C709.89 256.63 712.81 257.49 715.73 258.34 C718.65 259.20 721.57 260.05 724.49 260.91 C727.41 261.76 730.33 262.62 733.25 263.47 C736.17 264.32 739.09 265.17 742.01 266.02 C744.93 266.88 747.84 267.73 750.76 268.58 C753.68 269.43 756.60 270.28 759.51 271.13 C762.43 271.98 765.34 272.83 768.26 273.68 C771.17 274.53 774.09 275.38 777.00 276.23 C779.91 277.08 782.82 277.93 785.73 278.78 C788.64 279.63 791.55 280.48 794.46 281.34 C797.37 282.19 800.28 283.04 803.19 283.89 C806.09 284.75 810.45 286.03 811.90 286.45" stroke="#800080" stroke-width="1.3"/>
<path d="M144.34 27.69 C145.13 29.03 147.44 33.08 149.07 35.70 C150.70 38.32 152.38 40.90 154.11 43.44 C155.83 45.97 157.61 48.46 159.44 50.91 C161.26 53.36 163.13 55.77 165.04 58.14 C166.96 60.51 168.91 62.84 170.91 65.13 C172.91 67.43 174.95 69.68 177.02 71.90 C179.10 74.11 181.21 76.29 183.36 78.44 C185.51 80.59 187.70 82.70 189.91 84.78 C192.13 86.86 194.38 88.91 196.66 90.92 C198.94 92.94 201.25 94.92 203.59 96.88 C205.93 98.83 208.30 100.76 210.68 102.66 C213.07 104.56 215.49 106.43 217.93 108.27 C220.36 110.12 222.82 111.94 225.30 113.73 C227.77 115.53 230.27 117.30 232.79 119.05 C235.30 120.79 237.83 122.52 240.37 124.23 C242.92 125.93 245.48 127.62 248.05 129.28 C250.61 130.95 253.20 132.60 255.79 134.23 C258.37 135.86 260.97 137.47 263.58 139.06 C266.19 140.66 268.81 142.24 271.43 143.80 C274.06 145.36 276.69 146.90 279.34 148.43 C281.98 149.96 284.63 151.47 287.29 152.97 C289.95 154.46 292.62 155.94 295.29 157.41 C297.97 158.87 300.65 160.32 303.35 161.75 C306.04 163.19 308.74 164.61 311.44 166.01 C314.15 167.42 316.87 168.81 319.59 170.18 C322.31 171.56 325.04 172.92 327.77 174.27 C330.51 175.62 333.25 176.95 336.00 178.27 C338.75 179.59 341.51 180.90 344.27 182.20 C347.03 183.49 349.80 184.77 352.58 186.04 C355.35 187.31 358.13 188.57 360.92 189.82 C363.71 191.06 366.50 192.29 369.30 193.52 C372.10 194.74 374.90 195.95 377.71 197.15 C380.52 198.35 383.34 199.53 386.16 200.71 C388.98 201.89 391.80 203.06 394.63 204.21 C397.46 205.37 400.30 206.51 403.13 207.65 C405.97 208.79 408.82 209.91 411.67 211.03 C414.51 212.15 417.37 213.25 420.22 214.35 C423.08 215.45 425.94 216.54 428.80 217.62 C431.67 218.70 434.53 219.78 437.41 220.84 C440.28 221.90 443.15 222.96 446.03 224.01 C448.91 225.06 451.79 226.10 454.67 227.13 C457.56 228.17 460.44 229.19 463.33 230.21 C466.22 231.23 469.12 232.25 472.01 233.25 C474.91 234.26 477.80 235.26 480.70 236.25 C483.60 237.25 486.50 238.23 489.41 239.22 C492.31 240.20 495.22 241.18 498.12 242.15 C501.03 243.12 503.94 244.09 506.85 245.05 C509.76 246.01 512.67 246.97 515.58 247.92 C518.49 248.88 521.41 249.83 524.32 250.77 C527.23 251.72 530.15 252.66 533.07 253.60 C535.98 254.54 538.90 255.47 541.81 256.40 C544.73 257.33 547.65 258.26 550.56 259.19 C553.48 260.12 556.40 261.04 559.31 261.96 C562.23 262.88 565.15 263.80 568.06 264.72 C570.98 265.64 573.89 266.56 576.81 267.47 C579.72 268.39 582.63 269.30 585.55 270.21 C588.46 271.13 591.37 272.04 594.28 272.95 C597.19 273.86 600.10 274.77 603.01 275.69 C605.92 276.60 608.82 277.51 611.73 278.42 C614.63 279.34 617.53 280.25 620.43 281.16 C623.33 282.08 626.23 282.99 629.12 283.91 C632.02 284.82 634.91 285.74 637.80 286.66 C640.69 287.58 643.58 288.50 646.47 289.42 C649.35 290.35 652.23 291.27 655.11 292.20 C657.99 293.13 662.30 294.53 663.74 295.00" stroke="#800080" stroke-width="1.3"/>
<path d="M692.11 294.69 C691.05 294.39 687.84 293.48 685.70 292.87 C683.57 292.26 681.43 291.64 679.30 291.03 C677.16 290.42 675.03 289.80 672.90 289.19 C670.77 288.57 668.64 287.95 666.51 287.33 C664.38 286.71 662.25 286.09 660.12 285.46 C658.00 284.84 655.87 284.22 653.74 283.59 C651.62 282.96 649.49 282.33 647.37 281.70 C645.25 281.07 643.12 280.44 641.00 279.81 C638.88 279.17 636.76 278.54 634.64 277.90 C632.52 277.26 630.40 276.62 628.28 275.98 C626.16 275.34 624.05 274.70 621.93 274.05 C619.82 273.41 617.70 272.76 615.59 272.11 C613.47 271.46 611.36 270.81 609.24 270.16 C607.13 269.51 605.02 268.85 602.91 268.20 C600.80 267.54 598.69 266.88 596.58 266.22 C594.47 265.57 592.36 264.90 590.25 264.24 C588.14 263.58 586.03 262.91 583.93 262.24 C581.82 261.58 579.72 260.91 577.61 260.24 C575.51 259.57 573.40 258.89 571.30 258.22 C569.19 257.54 567.09 256.87 564.99 256.19 C562.89 255.51 560.78 254.83 558.68 254.15 C556.58 253.46 554.48 252.78 552.38 252.09 C550.28 251.41 548.18 250.72 546.08 250.03 C543.98 249.34 541.89 248.65 539.79 247.95 C537.69 247.26 535.60 246.56 533.50 245.86 C531.40 245.16 529.31 244.46 527.21 243.76 C525.12 243.06 523.02 242.35 520.93 241.65 C518.83 240.94 516.74 240.23 514.65 239.52 C512.55 238.81 510.46 238.10 508.37 237.38 C506.27 236.67 504.18 235.95 502.09 235.23 C500.00 234.51 497.91 233.79 495.82 233.07 C493.73 232.35 491.64 231.62 489.55 230.89 C487.46 230.17 485.37 229.44 483.28 228.70 C481.19 227.97 479.10 227.24 477.01 226.50 C474.93 225.77 472.84 225.03 470.75 224.29 C468.66 223.55 466.57 222.81 464.49 222.06 C462.40 221.32 460.31 220.57 458.23 219.82 C456.14 219.07 454.06 218.32 451.97 217.56 C449.89 216.81 447.81 216.05 445.72 215.29 C443.64 214.52 441.56 213.76 439.48 212.99 C437.40 212.22 435.32 211.45 433.24 210.68 C431.17 209.90 429.09 209.12 427.01 208.34 C424.94 207.56 422.87 206.77 420.79 205.98 C418.72 205.19 416.65 204.39 414.58 203.59 C412.52 202.79 410.45 201.99 408.38 201.18 C406.32 200.37 404.26 199.56 402.20 198.74 C400.14 197.92 398.08 197.10 396.02 196.27 C393.97 195.45 391.91 194.61 389.86 193.77 C387.81 192.94 385.76 192.09 383.71 191.24 C381.67 190.39 379.62 189.54 377.58 188.68 C375.54 187.82 373.50 186.95 371.47 186.08 C369.43 185.20 367.40 184.33 365.37 183.44 C363.34 182.55 361.32 181.66 359.30 180.76 C357.27 179.87 355.25 178.96 353.24 178.05 C351.22 177.14 349.21 176.22 347.20 175.29 C345.19 174.37 343.19 173.44 341.18 172.50 C339.18 171.56 337.18 170.61 335.19 169.65 C333.20 168.70 331.21 167.74 329.22 166.77 C327.24 165.79 325.25 164.82 323.28 163.83 C321.30 162.84 319.33 161.85 317.36 160.85 C315.39 159.84 313.42 158.83 311.46 157.81 C309.50 156.79 307.55 155.77 305.60 154.73 C303.65 153.69 301.70 152.65 299.76 151.59 C297.82 150.54 295.88 149.47 293.95 148.40 C292.02 147.33 290.10 146.25 288.17 145.15 C286.25 144.06 284.34 142.96 282.43 141.85 C280.52 140.74 278.61 139.62 276.71 138.49 C274.82 137.36 272.92 136.22 271.03 135.06 C269.15 133.91 267.26 132.75 265.39 131.58 C263.51 130.41 261.64 129.22 259.78 128.03 C257.91 126.84 256.05 125.63 254.20 124.42 C252.35 123.20 250.50 121.98 248.66 120.74 C246.83 119.50 244.99 118.26 243.17 117.00 C241.34 115.74 239.52 114.46 237.71 113.18 C235.91 111.90 234.10 110.60 232.31 109.30 C230.52 107.99 228.74 106.68 226.97 105.35 C225.19 104.02 223.43 102.68 221.68 101.32 C219.93 99.97 218.19 98.61 216.46 97.23 C214.74 95.85 213.02 94.47 211.32 93.07 C209.62 91.67 207.92 90.26 206.25 88.83 C204.58 87.40 202.91 85.98 201.28 84.49 C199.66 83.01 198.05 81.51 196.51 79.92 C194.97 78.32 193.47 76.68 192.06 74.91 C190.66 73.14 189.26 71.26 188.07 69.28 C186.87 67.29 185.23 64.82 184.88 63.00 C184.53 61.18 184.81 59.07 185.99 58.38 C187.17 57.70 189.85 58.40 191.95 58.88 C194.06 59.37 196.47 60.45 198.61 61.32 C200.75 62.20 202.79 63.15 204.80 64.14 C206.81 65.12 208.74 66.16 210.67 67.22 C212.59 68.27 214.47 69.37 216.36 70.46 C218.25 71.55 220.12 72.66 222.02 73.76 C223.91 74.86 225.82 75.96 227.73 77.05 C229.64 78.15 231.56 79.24 233.49 80.33 C235.42 81.42 237.35 82.50 239.29 83.58 C241.23 84.67 243.17 85.75 245.12 86.82 C247.06 87.89 249.01 88.96 250.96 90.02 C252.91 91.09 254.86 92.15 256.81 93.20 C258.76 94.25 260.72 95.30 262.67 96.34 C264.63 97.39 266.58 98.43 268.54 99.46 C270.50 100.49 272.46 101.52 274.42 102.54 C276.38 103.57 278.34 104.59 280.31 105.60 C282.27 106.61 284.24 107.62 286.21 108.63 C288.18 109.63 290.15 110.63 292.12 111.62 C294.09 112.62 296.07 113.61 298.05 114.59 C300.02 115.57 302.00 116.55 303.98 117.53 C305.96 118.50 307.95 119.47 309.93 120.44 C311.92 121.40 313.91 122.37 315.90 123.32 C317.89 124.28 319.88 125.23 321.88 126.17 C323.88 127.12 325.87 128.06 327.87 129.00 C329.88 129.94 331.88 130.87 333.89 131.80 C335.89 132.73 337.90 133.65 339.91 134.57 C341.93 135.49 343.94 136.40 345.96 137.31 C347.97 138.22 349.99 139.13 352.01 140.03 C354.04 140.93 356.06 141.83 358.09 142.72 C360.11 143.61 362.14 144.50 364.17 145.39 C366.20 146.27 368.23 147.15 370.27 148.03 C372.30 148.90 374.34 149.77 376.38 150.64 C378.41 151.51 380.45 152.37 382.49 153.23 C384.54 154.09 386.58 154.95 388.62 155.80 C390.67 156.65 392.72 157.50 394.76 158.35 C396.81 159.19 398.86 160.03 400.91 160.87 C402.96 161.71 405.02 162.54 407.07 163.37 C409.12 164.20 411.18 165.02 413.23 165.85 C415.29 166.67 417.35 167.49 419.41 168.30 C421.46 169.12 423.52 169.93 425.58 170.74 C427.64 171.55 429.71 172.35 431.77 173.15 C433.83 173.95 435.90 174.75 437.96 175.55 C440.03 176.34 442.09 177.13 444.16 177.92 C446.23 178.71 448.30 179.49 450.37 180.28 C452.44 181.06 454.51 181.84 456.58 182.61 C458.65 183.39 460.72 184.16 462.80 184.93 C464.87 185.70 466.95 186.46 469.02 187.23 C471.10 187.99 473.18 188.75 475.25 189.51 C477.33 190.27 479.41 191.02 481.49 191.77 C483.57 192.52 485.65 193.27 487.73 194.02 C489.82 194.76 491.90 195.51 493.98 196.25 C496.07 196.99 498.15 197.72 500.24 198.46 C502.32 199.19 504.41 199.92 506.50 200.65 C508.59 201.38 510.67 202.11 512.76 202.83 C514.85 203.56 516.94 204.28 519.04 205.00 C521.13 205.72 523.22 206.43 525.31 207.15 C527.41 207.86 529.50 208.57 531.59 209.28 C533.69 209.99 535.78 210.70 537.88 211.40 C539.98 212.11 542.07 212.81 544.17 213.51 C546.27 214.21 548.37 214.91 550.47 215.60 C552.57 216.30 554.67 216.99 556.77 217.68 C558.87 218.37 560.97 219.06 563.08 219.75 C565.18 220.43 567.28 221.12 569.39 221.80 C571.49 222.48 573.60 223.16 575.70 223.84 C577.81 224.52 579.91 225.20 582.02 225.87 C584.13 226.55 586.24 227.22 588.34 227.89 C590.45 228.56 592.56 229.23 594.67 229.90 C596.78 230.57 598.89 231.23 601.00 231.90 C603.11 232.56 605.22 233.22 607.34 233.89 C609.45 234.55 611.56 235.21 613.68 235.86 C615.79 236.52 617.90 237.18 620.02 237.83 C622.13 238.49 624.25 239.14 626.36 239.79 C628.48 240.44 630.59 241.09 632.71 241.74 C634.83 242.39 636.94 243.04 639.06 243.68 C641.18 244.33 643.30 244.97 645.41 245.62 C647.53 246.26 649.65 246.90 651.77 247.54 C653.89 248.18 656.01 248.82 658.13 249.46 C660.25 250.10 662.37 250.74 664.49 251.38 C666.61 252.01 668.73 252.65 670.85 253.28 C672.97 253.92 675.09 254.55 677.22 255.18 C679.34 255.82 681.46 256.45 683.58 257.08 C685.70 257.71 687.83 258.34 689.95 258.97 C692.07 259.60 694.19 260.23 696.32 260.86 C698.44 261.48 700.56 262.11 702.69 262.74 C704.81 263.36 706.93 263.99 709.06 264.62 C711.18 265.24 713.31 265.87 715.43 266.49 C717.55 267.11 719.68 267.74 721.80 268.36 C723.93 268.98 726.05 269.61 728.17 270.23 C730.30 270.85 732.42 271.47 734.55 272.10 C736.67 272.72 738.80 273.34 740.92 273.96 C743.04 274.58 745.17 275.20 747.29 275.82 C749.42 276.44 751.54 277.06 753.66 277.69 C755.79 278.31 757.91 278.93 760.04 279.55 C762.16 280.17 764.28 280.79 766.41 281.41 C768.53 282.03 770.65 282.65 772.78 283.27 C774.90 283.89 777.02 284.51 779.15 285.13 C781.27 285.75 783.39 286.37 785.51 286.99 C787.64 287.61 789.76 288.24 791.88 288.86 C794.00 289.48 796.13 290.10 798.25 290.72 C800.37 291.34 802.49 291.97 804.61 292.59 C806.73 293.21 809.91 294.15 810.97 294.46" stroke="#800080" stroke-width="1.3"/>
<path d="M248.6 166.1 H795.8 M367.6 95.2 V290.1" stroke="#800080" stroke-width="1.35"/>
<circle cx="367.6" cy="166.1" r="7" stroke="#800080" stroke-width="1.3"/>
<path d="M362.65 161.15 L372.55 171.05 M372.55 161.15 L362.65 171.05" stroke="#800080" stroke-width="1.3"/>
</g>
<text transform="translate(83.19 311.70) scale(1 1.075)" font-size="17.00" fill="#000">42.0</text>
<text transform="translate(257.27 311.70) scale(1 1.075)" font-size="17.00" fill="#000">42.5</text>
<text transform="translate(431.29 311.70) scale(1 1.075)" font-size="17.00" fill="#000">43.0</text>
<text transform="translate(605.37 311.70) scale(1 1.075)" font-size="17.00" fill="#000">43.5</text>
<text transform="translate(779.39 311.70) scale(1 1.075)" font-size="17.00" fill="#000">44.0</text>
<text transform="translate(85.67 40.70) scale(1 1.075)" font-size="17.00" fill="#000">2</text>
<text transform="translate(75.29 40.70) scale(1 1.075)" font-size="17.00" fill="#000">−</text>
<text transform="translate(85.59 101.70) scale(1 1.075)" font-size="17.00" fill="#000">3</text>
<text transform="translate(75.29 101.70) scale(1 1.075)" font-size="17.00" fill="#000">−</text>
<text transform="translate(85.33 166.10) scale(1 1.075)" font-size="17.00" fill="#000">4</text>
<text transform="translate(75.29 166.10) scale(1 1.075)" font-size="17.00" fill="#000">−</text>
<text transform="translate(85.55 230.90) scale(1 1.075)" font-size="17.00" fill="#000">5</text>
<text transform="translate(75.29 230.90) scale(1 1.075)" font-size="17.00" fill="#000">−</text>
<text transform="translate(85.59 290.40) scale(1 1.075)" font-size="17.00" fill="#000">6</text>
<text transform="translate(75.29 290.40) scale(1 1.075)" font-size="17.00" fill="#000">−</text>
<text transform="translate(377.78 56.8) scale(1.144 0.99)" font-size="22.26">α</text>
<text transform="translate(397.50 60.10) scale(1 1.047)" font-size="21.00" fill="#000">=</text>
<text transform="translate(415.40 60.00) scale(1 1.047)" font-size="21.00" fill="#000">−</text>
<text transform="translate(427.73 56.80) scale(1 1.047)" font-size="21.00" fill="#000">2.5</text>
<text transform="translate(463.41 56.60) scale(1 1.026)" font-size="21.42" fill="#000">(fixed):</text>
<text transform="translate(586.92 56.70) scale(1 1.075)" font-size="17.00" fill="#0000FF">z=5.7, Konno+17</text>
<text transform="translate(586.92 76.10) scale(1 1.075)" font-size="17.00" fill="#00FF00">z=6.6, Konno+17</text>
<text transform="translate(586.92 95.50) scale(1 1.075)" font-size="17.00" fill="#FF0000">z=6.9, Zheng+17</text>
<text transform="translate(586.92 115.00) scale(1 1.075)" font-size="17.00" fill="#808080">z=6.9, Zheng+17</text>
<text transform="translate(586.92 134.50) scale(1 1.075)" font-size="17.00" fill="#800080">z=7.3, Konno+14</text>
<text transform="translate(719.25 89.60) scale(1 1.075)" font-size="10.75" fill="#FF0000">[42.65–43.25]</text>
<text transform="translate(719.25 109.10) scale(1 1.075)" font-size="10.75" fill="#808080">[42.65–43.65]</text>
<rect x="558.5" y="45.8" width="8.3" height="8.3" fill="#0000FF"/>
<path d="M562.6 64.3 L567.7 69.4 L562.6 74.5 L557.5 69.4 Z" fill="#00FF00"/>
<circle cx="562.6" cy="89" r="5.8" fill="#FF0000"/>
<circle cx="562.6" cy="108.3" r="5.8" fill="#808080"/>
<circle cx="562.6" cy="127.7" r="4.9" fill="none" stroke="#800080" stroke-width="1.2"/>
<path d="M559.1 124.2 L566.1 131.2 M566.1 124.2 L559.1 131.2" stroke="#800080" stroke-width="1.2"/>
<text transform="translate(369.19 330.20) scale(1 1.075)" fill="#000"><tspan x="0.00" y="0.00" font-size="17.00">log</tspan><tspan x="22.69" y="3.00" font-size="10.37">10</tspan><tspan x="34.22" y="0.00" font-size="17.00"> L</tspan><tspan x="48.40" y="-6.60" font-size="10.37">*</tspan><tspan x="52.44" y="0.00" font-size="17.00">(Ly</tspan><tspan x="75.42" y="0.00" font-size="19.04">α</tspan><tspan x="86.83" y="0.00" font-size="17.00">) [erg s</tspan><tspan x="139.73" y="-6.60" font-size="10.37">−1</tspan><tspan x="151.55" y="0.00" font-size="17.00">]</tspan></text>
<text transform="translate(408.50 357.50) scale(1 1.075)" fill="#000"><tspan x="0.00" y="0.00" font-size="17.00">log</tspan><tspan x="22.69" y="3.00" font-size="10.37">10</tspan><tspan x="34.22" y="0.00" font-size="17.00"> (1+z)</tspan></text>
<text transform="translate(63.20 218.60) rotate(-90) scale(1 1.075)" fill="#000"><tspan x="-1.10" y="0.00" font-size="17.00">log</tspan><tspan x="21.58" y="3.00" font-size="10.37">10</tspan><tspan x="33.12" y="0.00" font-size="17.00"> Φ</tspan><tspan x="51.40" y="-6.60" font-size="10.37">*</tspan><tspan x="55.44" y="0.00" font-size="17.00"> [Mpc</tspan><tspan x="97.00" y="-6.60" font-size="10.37">−3</tspan><tspan x="108.83" y="0.00" font-size="17.00">]</tspan></text>
<rect x="99.60" y="378.90" width="696.20" height="202.30" fill="none" stroke="#000" stroke-width="1.20"/>
<path d="M99.60 378.90 h13.50 M99.60 389.02 h7.00 M99.60 399.13 h7.00 M99.60 409.24 h7.00 M99.60 419.36 h7.00 M99.60 429.48 h13.50 M99.60 439.59 h7.00 M99.60 449.71 h7.00 M99.60 459.82 h7.00 M99.60 469.93 h7.00 M99.60 480.05 h13.50 M99.60 490.17 h7.00 M99.60 500.28 h7.00 M99.60 510.39 h7.00 M99.60 520.51 h7.00 M99.60 530.62 h13.50 M99.60 540.74 h7.00 M99.60 550.86 h7.00 M99.60 560.97 h7.00 M99.60 571.08 h7.00 M99.60 581.20 h13.50 M795.80 384.66 h-7.00 M795.80 394.82 h-7.00 M795.80 404.98 h-7.00 M795.80 415.14 h-7.00 M795.80 425.30 h-14.00 M795.80 435.46 h-7.00 M795.80 445.62 h-7.00 M795.80 455.78 h-7.00 M795.80 465.94 h-7.00 M795.80 476.10 h-14.00 M795.80 486.26 h-7.00 M795.80 496.42 h-7.00 M795.80 506.58 h-7.00 M795.80 516.74 h-7.00 M795.80 526.90 h-14.00 M795.80 537.06 h-7.00 M795.80 547.22 h-7.00 M795.80 557.38 h-7.00 M795.80 567.54 h-7.00 M795.80 577.70 h-14.00 M99.60 581.20 v-4.2 M333.14 581.20 v-4.2 M535.44 581.20 v-4.2 M713.89 581.20 v-4.2 M106.05 378.90 v2.40 M140.93 378.90 v2.40 M175.82 378.90 v4.80 M210.70 378.90 v2.40 M245.59 378.90 v2.40 M280.47 378.90 v2.40 M315.36 378.90 v2.40 M350.24 378.90 v4.80 M385.13 378.90 v2.40 M420.01 378.90 v2.40 M454.90 378.90 v2.40 M489.78 378.90 v2.40 M524.66 378.90 v4.80 M559.55 378.90 v2.40 M594.43 378.90 v2.40 M629.32 378.90 v2.40 M664.20 378.90 v2.40 M699.09 378.90 v4.80 M733.97 378.90 v2.40 M768.86 378.90 v2.40 " stroke="#000" stroke-width="1.20" fill="none"/>
<g clip-path="url(#cb)">
<path d="M99.60 392.90 L333.14 420.10 L535.44 427.90 L713.89 426.40 L713.89 464.60 L535.44 440.20 L333.14 424.70 L99.60 395.50 Z" fill="#DDBB75"/>
</g>
<path d="M535.44 427.9 V440.2 M531.74 427.9 h7.4 M531.74 440.2 h7.4 M713.89 426.4 V464.6 M710.09 426.4 h7.6 M710.09 464.6 h7.6" stroke="#C08A3E" stroke-width="1.3" fill="none"/>
<g clip-path="url(#cb)">
<path d="M94.00 388.80 L105.20 388.80 L99.60 398.80 Z" fill="#A0671B"/>
</g>
<path d="M327.54 416.70 L338.74 416.70 L333.14 426.70 Z" fill="#A0671B"/>
<path d="M529.84 428.90 L541.04 428.90 L535.44 438.90 Z" fill="#A0671B"/>
<path d="M708.29 440.40 L719.49 440.40 L713.89 450.40 Z" fill="#A0671B"/>
<path d="M266.78 455.4 L457.73 475.3 L524.20 490" stroke="#000" stroke-width="2.1" stroke-dasharray="13.3 6.7" stroke-dashoffset="0" fill="none"/>
<path d="M266.78 476 L457.73 496.7 L524.20 539.4 L591.22 576.6" stroke="#000" stroke-width="1.4" fill="none"/>
<rect x="262.23" y="450.9" width="9.1" height="9.1" fill="#0000FF"/>
<rect x="260.38" y="469.6" width="12.8" height="12.8" fill="#0000FF" stroke="#000" stroke-width="1.1"/>
<path d="M457.73 470.2 l5.1 5.1 l-5.1 5.1 l-5.1 -5.1 Z" fill="#00FF00"/>
<path d="M457.73 489.2 l7.5 7.5 l-7.5 7.5 l-7.5 -7.5 Z" fill="#00FF00" stroke="#000" stroke-width="1.1"/>
<circle cx="524.20" cy="490" r="6.6" fill="#FF0000"/>
<circle cx="524.20" cy="539.4" r="8.6" fill="#FF0000" stroke="#000" stroke-width="1.1"/>
<g clip-path="url(#cb)" fill="none" stroke="#800080" stroke-width="1.3">
<circle cx="591.22" cy="576.6" r="7.1"/>
<path d="M586.22 571.6 l10 10 M596.22 571.6 l-10 10 M591.22 568.6 V590 M587.02 568.6 h8.4"/>
<path d="M587.52 576.6 h7.4" stroke="#000" stroke-width="1.2"/>
</g>
<text transform="translate(87.46 603.00) scale(1 1.075)" font-size="17.00" fill="#000">5.0</text>
<text transform="translate(320.92 603.00) scale(1 1.075)" font-size="17.00" fill="#000">6.0</text>
<text transform="translate(523.22 603.00) scale(1 1.075)" font-size="17.00" fill="#000">7.0</text>
<text transform="translate(701.73 603.00) scale(1 1.075)" font-size="17.00" fill="#000">8.0</text>
<text transform="translate(158.99 372.80) scale(1 1.075)" font-size="17.00" fill="#000">0.80</text>
<text transform="translate(333.43 372.80) scale(1 1.075)" font-size="17.00" fill="#000">0.85</text>
<text transform="translate(507.83 372.80) scale(1 1.075)" font-size="17.00" fill="#000">0.90</text>
<text transform="translate(682.28 372.80) scale(1 1.075)" font-size="17.00" fill="#000">0.95</text>
<text transform="translate(61.82 388.50) scale(1 1.075)" font-size="17.00" fill="#000">40.5</text>
<text transform="translate(61.77 435.58) scale(1 1.075)" font-size="17.00" fill="#000">40.0</text>
<text transform="translate(61.82 486.25) scale(1 1.075)" font-size="17.00" fill="#000">39.5</text>
<text transform="translate(61.77 537.02) scale(1 1.075)" font-size="17.00" fill="#000">39.0</text>
<text transform="translate(61.82 582.50) scale(1 1.075)" font-size="17.00" fill="#000">38.5</text>
<text transform="translate(799.69 430.80) scale(1 1.075)" font-size="17.00" fill="#000">−</text>
<text transform="translate(808.05 430.80) scale(1 1.075)" font-size="17.00" fill="#000">2.0</text>
<text transform="translate(799.69 481.60) scale(1 1.075)" font-size="17.00" fill="#000">−</text>
<text transform="translate(808.05 481.60) scale(1 1.075)" font-size="17.00" fill="#000">2.5</text>
<text transform="translate(799.69 532.40) scale(1 1.075)" font-size="17.00" fill="#000">−</text>
<text transform="translate(808.26 532.40) scale(1 1.075)" font-size="17.00" fill="#000">3.0</text>
<text transform="translate(799.69 583.20) scale(1 1.075)" font-size="17.00" fill="#000">−</text>
<text transform="translate(808.26 583.20) scale(1 1.075)" font-size="17.00" fill="#000">3.5</text>
<text transform="translate(443.41 621.00) scale(1 1.075)" font-size="17.00" fill="#000">z</text>
<text transform="translate(48.90 574.00) rotate(-90) scale(1 1.075)" fill="#000"><tspan x="-1.10" y="0.00" font-size="17.00">log</tspan><tspan x="21.58" y="3.00" font-size="10.37">10</tspan><tspan x="33.12" y="0.00" font-size="17.00">(ρ</tspan><tspan x="48.45" y="-6.60" font-size="11.56">Lyα</tspan><tspan x="66.91" y="0.00" font-size="17.00">) [erg s</tspan><tspan x="119.81" y="-6.60" font-size="10.37">−1</tspan><tspan x="131.64" y="0.00" font-size="17.00"> Mpc</tspan><tspan x="168.48" y="-6.60" font-size="10.37">−3</tspan><tspan x="180.30" y="0.00" font-size="17.00">]</tspan></text>
<text transform="translate(846.00 597.50) rotate(-90) scale(1 1.075)" fill="#000"><tspan x="-1.10" y="0.00" font-size="17.00">log</tspan><tspan x="21.58" y="3.00" font-size="10.37">10</tspan><tspan x="33.12" y="0.00" font-size="17.00">(SFRD</tspan></text>
<text transform="translate(846.00 494.50) rotate(-90) scale(1 1.075)" fill="#000"><tspan x="-0.09" y="0.00" font-size="17.00">)</tspan></text>
<text transform="translate(846.00 483.80) rotate(-90) scale(1 1.075)" fill="#000"><tspan x="-1.19" y="0.00" font-size="17.00">[M</tspan></text>
<text transform="translate(846.00 437.60) rotate(-90) scale(1 1.075)" fill="#000"><tspan x="-0.04" y="0.00" font-size="17.00">yr</tspan><tspan x="14.12" y="-7.00" font-size="10.37">−1</tspan><tspan x="25.94" y="0.00" font-size="17.00"> Mpc</tspan></text>
<text transform="translate(846.00 377.70) rotate(-90) scale(1 1.075)" fill="#000"><tspan x="-0.49" y="-7.00" font-size="10.37">−3</tspan><tspan x="11.33" y="0.00" font-size="17.00">]</tspan></text>
<text transform="translate(594.55 419.00) scale(1 0.957)" fill="#000"><tspan x="0.00" y="0.00" font-size="23.80">log</tspan><tspan x="31.76" y="6.00" font-size="15.23">10</tspan><tspan x="48.71" y="0.00" font-size="23.80">(ρ</tspan><tspan x="70.17" y="6.00" font-size="15.23">UV</tspan><tspan x="91.33" y="0.00" font-size="23.80">)</tspan></text>
<text transform="translate(349.37 460.80) scale(1 1.000)" fill="#000"><tspan x="0.00" y="0.00" font-size="19.00">log</tspan><tspan x="25.36" y="3.20" font-size="11.59">10</tspan><tspan x="38.25" y="0.00" font-size="19.00">(ρ</tspan></text>
<text transform="translate(403.09 452.60) scale(1 1.000)" font-size="11.40" fill="#000">BRIGHT</text>
<text transform="translate(403.07 463.70) scale(1 1.000)" font-size="11.60" fill="#000">Lyα</text>
<text transform="translate(447.10 460.80) scale(1 1.000)" font-size="19.00" fill="#000">)</text>
<text transform="translate(458.10 460.80) scale(1 1.000)" font-size="19.00" fill="#000">+</text>
<text transform="translate(473.18 460.80) scale(1 1.000)" font-size="19.00" fill="#000">1.5</text>
<text transform="translate(281.25 520.40) scale(1 1.049)" fill="#000"><tspan x="0.00" y="0.00" font-size="20.70">log</tspan><tspan x="27.62" y="4.50" font-size="12.63">10</tspan><tspan x="41.67" y="0.00" font-size="20.70">(ρ</tspan><tspan x="60.34" y="4.50" font-size="13.87">Lyα</tspan><tspan x="82.49" y="0.00" font-size="20.70">)</tspan></text>
</svg>
</body></html>
